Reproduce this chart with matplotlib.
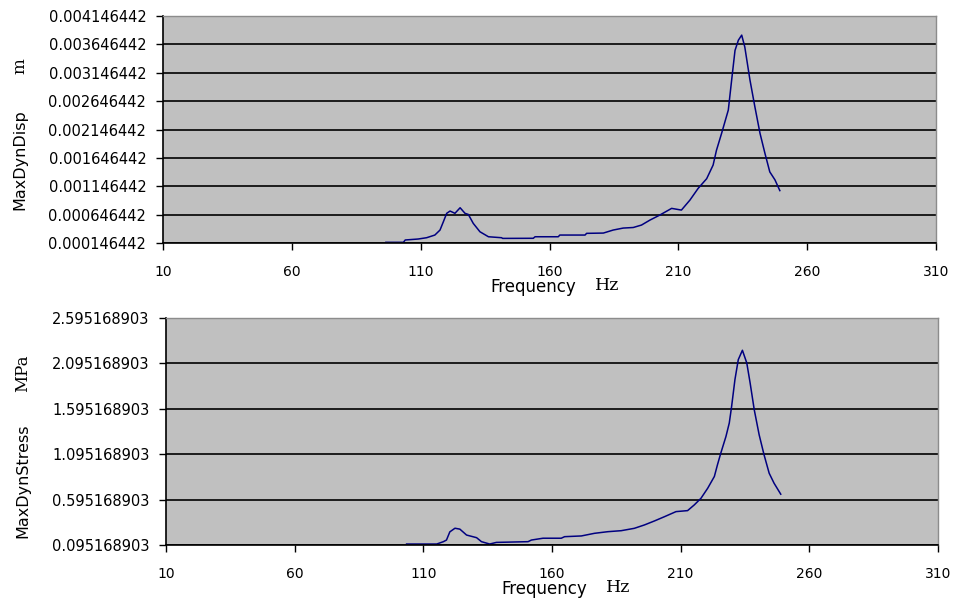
import matplotlib
matplotlib.use('Agg')
import matplotlib.pyplot as plt
import numpy as np

# Displacement response (m)
disp_freq = [96.5, 103.3, 104.0, 109.0, 112.3, 115.5, 117.5, 118.8, 120.1, 121.4,
             123.3, 125.3, 127.2, 128.5, 130.4, 133.0, 136.3, 141.4, 141.8, 153.7,
             154.4, 163.4, 164.0, 173.8, 174.4, 180.9, 184.7, 188.6, 192.5, 195.7,
             199.0, 202.8, 207.4, 211.2, 214.5, 217.7, 221.0, 223.5, 224.8, 226.8,
             229.4, 230.7, 232.0, 233.3, 234.6, 235.8, 237.8, 239.7, 241.7, 243.6,
             245.5, 247.5, 249.4]
disp_vals = [0.000159, 0.000159, 0.000200, 0.000217, 0.000240, 0.000287, 0.000375,
             0.000521, 0.000670, 0.000710, 0.000670, 0.000768, 0.000670, 0.000650,
             0.000493, 0.000345, 0.000257, 0.000240, 0.000228, 0.000230, 0.000257,
             0.000257, 0.000287, 0.000287, 0.000317, 0.000322, 0.000375, 0.000410,
             0.000420, 0.000463, 0.000551, 0.000639, 0.000757, 0.000727, 0.000903,
             0.001110, 0.001280, 0.001520, 0.001780, 0.002080, 0.002490, 0.003020,
             0.003540, 0.003720, 0.003810, 0.003600, 0.003020, 0.002550, 0.002080,
             0.001730, 0.001400, 0.001260, 0.001070]

# Stress response (MPa)
stress_freq = [103.5, 115.2, 117.8, 119.0, 120.3, 122.3, 124.2, 126.8, 130.7, 132.6,
               135.8, 138.4, 150.7, 152.0, 156.5, 163.6, 164.9, 171.4, 176.5, 181.7,
               186.9, 192.0, 195.9, 199.8, 203.7, 208.2, 212.7, 215.3, 217.9, 220.5,
               223.1, 224.3, 225.6, 227.6, 228.9, 229.8, 231.1, 232.4, 234.0, 235.7,
               237.0, 238.6, 240.5, 242.4, 244.4, 246.3, 248.9]
stress_vals = [0.106, 0.106, 0.132, 0.150, 0.240, 0.280, 0.270, 0.205, 0.176, 0.132,
               0.106, 0.124, 0.132, 0.150, 0.170, 0.170, 0.187, 0.195, 0.224, 0.242,
               0.253, 0.279, 0.316, 0.360, 0.407, 0.463, 0.474, 0.537, 0.610, 0.720,
               0.850, 0.978, 1.107, 1.290, 1.439, 1.620, 1.917, 2.137, 2.240, 2.100,
               1.880, 1.585, 1.310, 1.090, 0.886, 0.776, 0.655]

x_ticks = [10, 60, 110, 160, 210, 260, 310]
disp_ticks = [0.000146442 + 0.0005 * i for i in range(9)]
disp_labels = ['%.9f' % v for v in disp_ticks]
stress_ticks = [0.095168903 + 0.5 * i for i in range(6)]
stress_labels = ['%.9f' % v for v in stress_ticks]

LINE = '#000080'
BG = '#c0c0c0'
TICK_FONT = 10.5


def style_axes(ax, yticks, ylabels):
    ax.set_facecolor(BG)
    ax.set_xlim(10, 310)
    ax.set_ylim(yticks[0], yticks[-1])
    ax.set_xticks(x_ticks)
    ax.set_xticklabels([str(t) for t in x_ticks], fontsize=10)
    ax.set_yticks(yticks)
    ax.set_yticklabels(ylabels, fontsize=TICK_FONT)
    ax.yaxis.grid(True, color='black', linewidth=1.2)
    ax.set_axisbelow(True)
    ax.tick_params(axis='both', direction='out', length=5, width=1, color='black')
    ax.tick_params(axis='x', pad=11)
    ax.tick_params(axis='y', pad=7)
    for s in ['left', 'bottom']:
        ax.spines[s].set_color('black')
        ax.spines[s].set_linewidth(1.2)
    for s in ['top', 'right']:
        ax.spines[s].set_color('#8c8c8c')
        ax.spines[s].set_linewidth(1.0)


fig = plt.figure(figsize=(9.54, 5.98), dpi=100)
ax1 = fig.add_axes([0.1709, 0.5936, 0.8102, 0.3796])
ax2 = fig.add_axes([0.1740, 0.0886, 0.8092, 0.3796])

ax1.plot(disp_freq, disp_vals, color=LINE, linewidth=1.1)
style_axes(ax1, disp_ticks, disp_labels)

ax2.plot(stress_freq, stress_vals, color=LINE, linewidth=1.1)
style_axes(ax2, stress_ticks, stress_labels)

# axis titles: name in sans, unit in serif like the original
fig.text(20 / 954, 1 - 160 / 598, 'MaxDynDisp', rotation=90, fontsize=11.5,
         ha='center', va='center', family='DejaVu Sans')
fig.text(20 / 954, 1 - 66 / 598, 'm', rotation=90, fontsize=12,
         ha='center', va='center', family='DejaVu Serif')
fig.text(533 / 954, 1 - 287 / 598, 'Frequency', fontsize=12,
         ha='center', va='center', family='DejaVu Sans')
fig.text(607 / 954, 1 - 286 / 598, 'Hz', fontsize=12.5,
         ha='center', va='center', family='DejaVu Serif')

fig.text(23 / 954, 1 - 481 / 598, 'MaxDynStress', rotation=90, fontsize=11.5,
         ha='center', va='center', family='DejaVu Sans')
fig.text(23 / 954, 1 - 373 / 598, 'MPa', rotation=90, fontsize=12,
         ha='center', va='center', family='DejaVu Serif')
fig.text(544 / 954, 1 - 589 / 598, 'Frequency', fontsize=12,
         ha='center', va='center', family='DejaVu Sans')
fig.text(618 / 954, 1 - 588 / 598, 'Hz', fontsize=12.5,
         ha='center', va='center', family='DejaVu Serif')

fig.savefig('out.png', dpi=100)
